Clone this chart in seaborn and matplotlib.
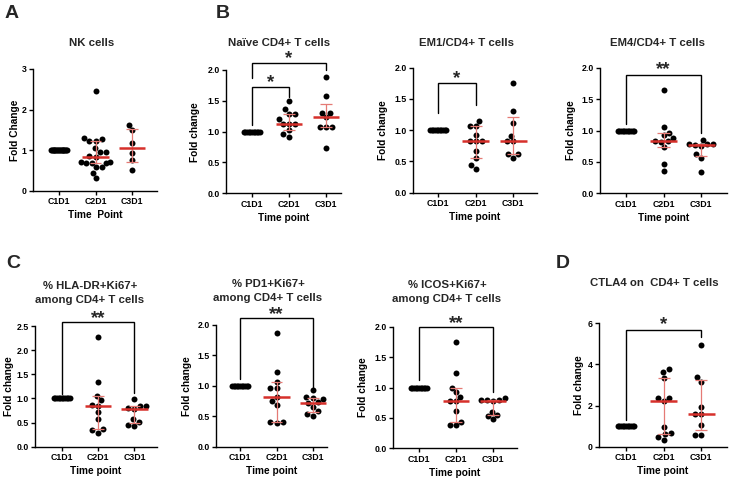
import numpy as np
import pandas as pd
import matplotlib
matplotlib.use("Agg")
import matplotlib.pyplot as plt
from matplotlib.ticker import FormatStrFormatter
import seaborn as sns

# ---------------- data ----------------
timepoints = ["C1D1", "C2D1", "C3D1"]

nk_n_c1d1 = 19
nk_c2d1 = [2.45, 1.30, 1.28, 1.24, 1.24, 1.05, 0.96, 0.95, 0.86, 0.84,
           0.70, 0.70, 0.70, 0.71, 0.71, 0.59, 0.58, 0.45, 0.32]
nk_c3d1 = [1.63, 1.50, 1.19, 0.93, 0.77, 0.52]

naive_n_c1d1 = 11
naive_c2d1 = [1.50, 1.36, 1.29, 1.29, 1.20, 1.12, 1.12, 1.12, 1.02, 0.96, 0.92]
naive_c3d1 = [1.88, 1.58, 1.31, 1.31, 1.24, 1.08, 1.08, 1.07, 0.73]

em1_n_c1d1 = 11
em1_c2d1 = [1.14, 1.07, 1.06, 0.92, 0.83, 0.83, 0.82, 0.66, 0.55, 0.45, 0.38]
em1_c3d1 = [1.75, 1.31, 1.11, 0.91, 0.83, 0.82, 0.62, 0.62, 0.56]

em4_n_c1d1 = 11
em4_c2d1 = [1.65, 1.05, 0.96, 0.93, 0.88, 0.83, 0.83, 0.82, 0.73, 0.47, 0.36]
em4_c3d1 = [0.85, 0.79, 0.79, 0.78, 0.77, 0.76, 0.62, 0.57, 0.34]

hla_n_c1d1 = 11
hla_c2d1 = [2.27, 1.34, 1.05, 0.96, 0.86, 0.85, 0.72, 0.58, 0.36, 0.34, 0.29]
hla_c3d1 = [0.98, 0.85, 0.84, 0.80, 0.78, 0.58, 0.52, 0.45, 0.43]

pd1_n_c1d1 = 11
pd1_c2d1 = [1.87, 1.23, 1.07, 0.96, 0.96, 0.81, 0.75, 0.69, 0.41, 0.40, 0.39]
pd1_c3d1 = [0.93, 0.81, 0.80, 0.78, 0.73, 0.72, 0.66, 0.58, 0.54, 0.51]

icos_n_c1d1 = 11
icos_c2d1 = [1.75, 1.24, 1.00, 0.93, 0.85, 0.78, 0.78, 0.62, 0.44, 0.39, 0.38]
icos_c3d1 = [0.83, 0.80, 0.80, 0.80, 0.78, 0.60, 0.55, 0.53, 0.48]

ctla4_n_c1d1 = 11
ctla4_c2d1 = [3.76, 3.65, 3.36, 2.38, 2.35, 2.22, 0.97, 0.68, 0.60, 0.45, 0.32]
ctla4_c3d1 = [4.95, 3.37, 3.16, 1.95, 1.60, 1.57, 1.05, 0.57, 0.55]

titles = ["NK cells", "Naïve CD4+ T cells", "EM1/CD4+ T cells", "EM4/CD4+ T cells",
          "% HLA-DR+Ki67+\namong CD4+ T cells", "% PD1+Ki67+\namong CD4+ T cells",
          "% ICOS+Ki67+\namong CD4+ T cells", "CTLA4 on  CD4+ T cells"]
ylabels = ["Fold Change"] + ["Fold change"] * 7
xlabels = ["Time  Point"] + ["Time point"] * 7
yticks = [[0, 1, 2, 3], [0, 0.5, 1.0, 1.5, 2.0], [0, 0.5, 1.0, 1.5, 2.0], [0, 0.5, 1.0, 1.5, 2.0],
          [0, 0.5, 1.0, 1.5, 2.0, 2.5], [0, 0.5, 1.0, 1.5, 2.0], [0, 0.5, 1.0, 1.5, 2.0], [0, 2, 4, 6]]
stars = [[], ["*", "*"], ["*"], ["**"], ["**"], ["**"], ["**"], ["*"]]

# ---------------- layout / style ----------------
W, H = 730, 482
# axes box in pixels: left, right, top, bottom
boxes = [(33, 157, 69, 191), (226, 341, 70, 193.3), (413, 537, 67.7, 192.7), (600, 727, 67.7, 193.3),
         (35, 157, 326, 446.7), (216, 327, 325, 446.7), (393, 517, 326.7, 448.3), (599, 727, 323.3, 446.7)]
xlims = [(-0.71, 2.68), (-0.70, 2.41), (-0.67, 2.63), (-0.69, 2.69),
         (-0.74, 2.62), (-0.66, 2.38), (-0.70, 2.65), (-0.72, 2.69)]
ylims = [(0, 3), (0, 2), (0, 2), (0, 2), (0, 2.5), (0, 2), (0, 2), (0, 6)]
yfmt = ["%d", "%.1f", "%.1f", "%.1f", "%.1f", "%.1f", "%.1f", "%d"]
title_pos = [(92, 43), (279, 43), (466, 43), (657, 43), (90, 293), (268, 291), (447, 292), (654, 283)]
ylabel_x = [15, 195, 383, 570, 9, 186, 363, 578]
# brackets: (x_from, x_to, height, left_leg_bottom, right_leg_bottom, star_baseline)
brackets = [[], [(0, 2, 2.12, 1.87, 2.0, 2.11), (0, 1, 1.73, 1.11, 1.57, 1.73)],
            [(0, 1, 1.75, 1.27, 1.40, 1.75)], [(0, 2, 1.88, 1.11, 0.965, 1.90)],
            [(0, 2, 2.59, 1.10, 1.12, 2.56)], [(0, 2, 2.11, 1.12, 0.97, 2.10)],
            [(0, 2, 1.99, 1.13, 0.93, 1.98)], [(0, 2, 5.68, 1.30, 5.35, 5.70)]]
letters = [("A", 12, 14), ("B", 223, 14), ("C", 13, 264), ("D", 563, 264)]

MED_RED = "#d6302b"
WHISK_RED = "#e57a75"
DOT = 4.3
C1_HALF = 0.22

sns.set_theme(style="ticks")
plt.rcParams['font.family'] = ['Liberation Sans', 'DejaVu Sans']
plt.rcParams['font.weight'] = 'bold'
plt.rcParams['axes.labelweight'] = 'bold'
plt.rcParams['axes.titleweight'] = 'bold'

fig = plt.figure(figsize=(W / 100, H / 100), dpi=100)
fig.patch.set_facecolor("white")

panels = [(nk_n_c1d1, nk_c2d1, nk_c3d1), (naive_n_c1d1, naive_c2d1, naive_c3d1),
          (em1_n_c1d1, em1_c2d1, em1_c3d1), (em4_n_c1d1, em4_c2d1, em4_c3d1),
          (hla_n_c1d1, hla_c2d1, hla_c3d1), (pd1_n_c1d1, pd1_c2d1, pd1_c3d1),
          (icos_n_c1d1, icos_c2d1, icos_c3d1), (ctla4_n_c1d1, ctla4_c2d1, ctla4_c3d1)]

for k, (n1, c2, c3) in enumerate(panels):
    l, r, t, b = boxes[k]
    ax = fig.add_axes([l / W, 1 - b / H, (r - l) / W, (b - t) / H])
    ax.set_facecolor("white")
    df = pd.DataFrame({"tp": ["C2D1"] * len(c2) + ["C3D1"] * len(c3), "val": list(c2) + list(c3)})
    sns.swarmplot(data=df, x="tp", y="val", order=timepoints, color="black",
                  size=DOT, linewidth=0, ax=ax, zorder=2)
    base = np.ones(n1)
    ax.scatter(np.linspace(-C1_HALF, C1_HALF, n1), base, s=DOT ** 2, color="black",
               linewidths=0, zorder=2)
    for i, vals in enumerate([base, np.array(c2), np.array(c3)]):
        q1, med, q3 = np.percentile(vals, [25, 50, 75], method="weibull")
        if i == 0:
            ax.hlines(med, i - C1_HALF, i + C1_HALF, color=MED_RED, lw=1.5, zorder=1)
            continue
        ax.vlines(i, q1, q3, color=WHISK_RED, lw=0.9, zorder=3)
        ax.hlines([q1, q3], i - 0.16, i + 0.16, color=WHISK_RED, lw=0.9, zorder=3)
        ax.hlines(med, i - 0.36, i + 0.36, color=MED_RED, lw=1.8, zorder=4)

    for (xa, xb, hgt, lb, rb, sy), st in zip(brackets[k], stars[k]):
        ax.plot([xa, xa, xb, xb], [lb, hgt, hgt, rb], color="black", lw=1.0,
                clip_on=False, zorder=5, solid_joinstyle="miter")
        ax.text((xa + xb) / 2, sy, st, ha="center", va="baseline", fontsize=13.5,
                fontweight="bold", clip_on=False)

    ax.set_xlim(*xlims[k])
    ax.set_ylim(*ylims[k])
    ax.set_yticks(yticks[k])
    ax.yaxis.set_major_formatter(FormatStrFormatter(yfmt[k]))
    ax.set_xticks([0, 1, 2])
    ax.set_xticklabels(timepoints)
    sns.despine(ax=ax)
    for sp in ["left", "bottom"]:
        ax.spines[sp].set_linewidth(1.0)
        ax.spines[sp].set_color("black")
    ax.tick_params(direction="out", length=3, width=1.0, labelsize=6.3, pad=1.5,
                   colors="black")
    ax.set_xlabel(xlabels[k], fontsize=7.3, labelpad=3, color="black")
    ax.set_ylabel(ylabels[k], fontsize=7.3, color="black")
    ax.yaxis.set_label_coords((ylabel_x[k] + 5.5) / W, 1 - (t + b) / 2 / H,
                              transform=fig.transFigure)
    tx, ty = title_pos[k]
    fig.text(tx / W, 1 - ty / H, titles[k], ha="center", va="center", fontsize=8.2,
             fontweight="bold", linespacing=1.45)

for s, x, y in letters:
    fig.text(x / W, 1 - y / H, s, ha="center", va="center", fontsize=14, fontweight="bold")

fig.savefig("out.png", dpi=100, facecolor="white")
